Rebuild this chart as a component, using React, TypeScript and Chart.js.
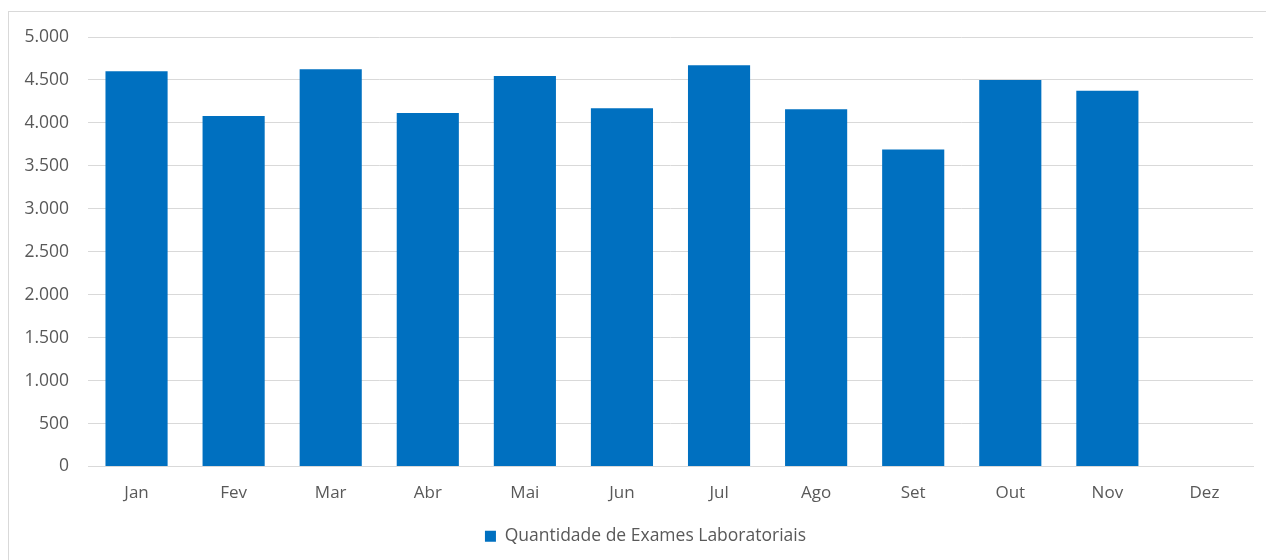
import React, { useEffect, useRef } from "react";
import { Chart, registerables } from "chart.js";

Chart.register(...registerables);

const categories = ["Jan", "Fev", "Mar", "Abr", "Mai", "Jun", "Jul", "Ago", "Set", "Out", "Nov", "Dez"];
const exames = [4600, 4080, 4625, 4115, 4545, 4170, 4670, 4160, 3690, 4500, 4375, null];
const yTicks = [0, 500, 1000, 1500, 2000, 2500, 3000, 3500, 4000, 4500, 5000];
const seriesLabel = "Quantidade de Exames Laboratoriais";

const FONT = "'Open Sans', 'Noto Sans', sans-serif";
const TEXT = "#595959";
const GRID = "#d9d9d9";
const BLUE = "#0070C0";

const legendShift = {
  id: "legendShift",
  afterUpdate(chart: any) {
    const lg = chart.legend;
    if (lg) {
      lg.left += 19;
      lg.right += 19;
    }
  },
};

export default function App() {
  const ref = useRef<HTMLCanvasElement | null>(null);
  useEffect(() => {
    if (!ref.current) return;
    const chart = new Chart(ref.current, {
      type: "bar",
      data: {
        labels: categories,
        datasets: [
          {
            label: seriesLabel,
            data: exames as any,
            backgroundColor: BLUE,
            borderWidth: 0,
            barPercentage: 0.64,
            categoryPercentage: 1,
          },
        ],
      },
      plugins: [legendShift],
      options: {
        animation: false,
        responsive: false,
        maintainAspectRatio: false,
        layout: { padding: { top: 37, right: 13, left: 0, bottom: 5 } },
        plugins: {
          tooltip: { enabled: false },
          legend: {
            position: "bottom",
            labels: {
              boxWidth: 11,
              boxHeight: 11,
              color: TEXT,
              font: { family: FONT, size: 17.5 },
              padding: 10,
            },
          },
        },
        scales: {
          x: {
            grid: { display: false, drawTicks: false },
            border: { display: true, color: GRID, width: 1 },
            ticks: { color: TEXT, font: { family: FONT, size: 17 }, padding: 16 },
            afterFit: (s: any) => {
              s.height = 51;
            },
          },
          y: {
            min: 0,
            max: 5000,
            afterBuildTicks: (s: any) => {
              s.ticks = yTicks.map((v) => ({ value: v }));
            },
            grid: { color: GRID, drawTicks: false, lineWidth: 1 },
            border: { display: false },
            ticks: {
              color: TEXT,
              font: { family: FONT, size: 17.5 },
              padding: 19,
              callback: (v: any) => Number(v).toLocaleString("pt-BR"),
            },
            afterFit: (s: any) => {
              s.width = 88;
            },
          },
        },
      },
    });
    return () => chart.destroy();
  }, []);
  return (
    <div style={{ position: "absolute", left: 0, top: 0, width: 1266, height: 560, background: "#fff", overflow: "hidden" }}>
      <div
        style={{
          position: "absolute",
          left: 8,
          top: 11,
          width: 1300,
          height: 600,
          border: "1px solid #d9d9d9",
          boxSizing: "border-box",
        }}
      />
      <canvas ref={ref} width={1266} height={560} style={{ position: "absolute", left: 0, top: 0, width: 1266, height: 560 }} />
    </div>
  );
}
